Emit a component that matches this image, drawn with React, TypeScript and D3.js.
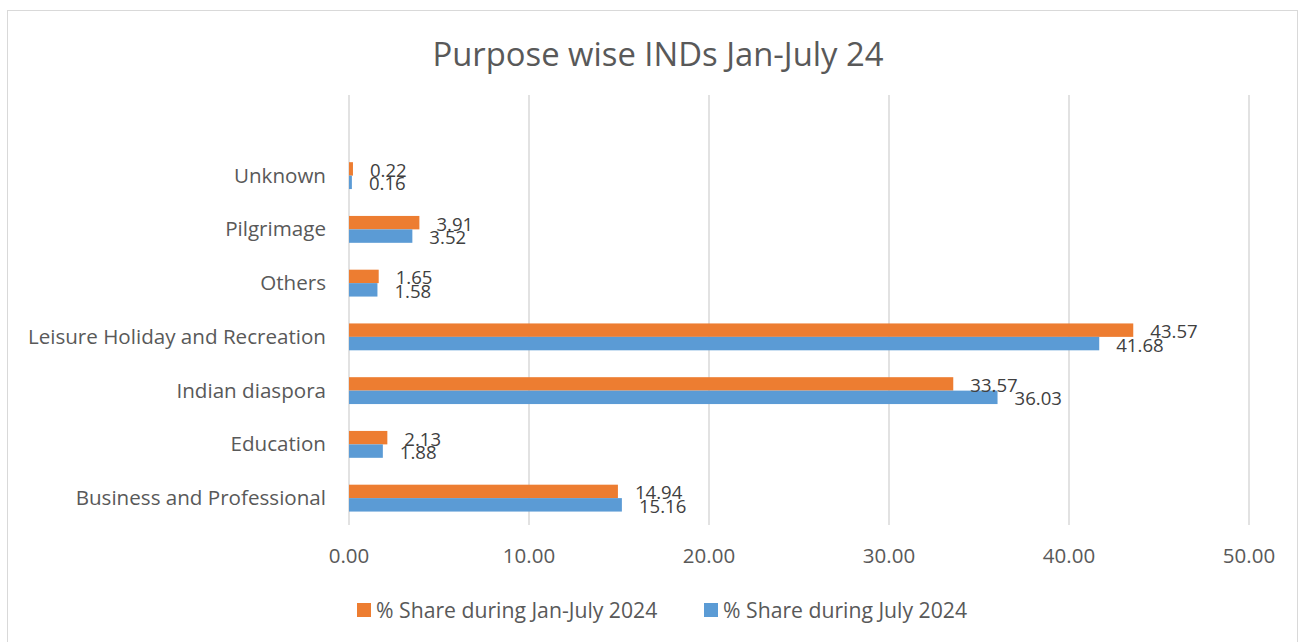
import { useEffect, useRef } from 'react'
import * as d3 from 'd3'

const categories = [
  'Unknown',
  'Pilgrimage',
  'Others',
  'Leisure Holiday and Recreation',
  'Indian diaspora',
  'Education',
  'Business and Professional',
]
const janJulyShare = [0.22, 3.91, 1.65, 43.57, 33.57, 2.13, 14.94]
const julyShare = [0.16, 3.52, 1.58, 41.68, 36.03, 1.88, 15.16]
const xTicks = [0, 10, 20, 30, 40, 50]
const seriesNames = ['% Share during Jan-July 2024', '% Share during July 2024']
const seriesColors = ['#ED7D31', '#5B9BD5']

export default function App() {
  const ref = useRef<SVGSVGElement>(null)

  useEffect(() => {
    const svg = d3.select(ref.current)
    svg.selectAll('*').remove()
    const width = 1298
    const height = 642
    const font = '"Open Sans", sans-serif'
    const textColor = '#595959'

    // chart frame
    svg.append('rect').attr('x', 7.5).attr('y', 10.5).attr('width', width - 8).attr('height', height - 10)
      .attr('fill', '#fff').attr('stroke', '#d9d9d9').attr('stroke-width', 1)

    svg.append('text').attr('x', 658).attr('y', 66).attr('text-anchor', 'middle')
      .attr('font-family', font).attr('font-size', 32.8).attr('fill', textColor)
      .text('Purpose wise INDs Jan-July 24')

    const plotTop = 95
    const plotBottom = 525
    const x = d3.scaleLinear().domain([0, 50]).range([349, 1249])
    const y = d3.scaleBand().domain(categories).range([plotTop + (plotBottom - plotTop) / 8, plotBottom])
      .paddingInner(0.5).paddingOuter(0.25)
    const sub = d3.scaleBand().domain(['0', '1']).range([0, y.bandwidth()])

    // gridlines
    svg.append('g').selectAll('line').data(xTicks).enter().append('line')
      .attr('x1', d => x(d)).attr('x2', d => x(d)).attr('y1', plotTop).attr('y2', plotBottom)
      .attr('stroke', '#d9d9d9').attr('stroke-width', 1.5)

    // tick labels
    svg.append('g').selectAll('text').data(xTicks).enter().append('text')
      .attr('x', d => x(d)).attr('y', 563).attr('text-anchor', 'middle')
      .attr('font-family', font).attr('font-size', 20.5).attr('fill', textColor)
      .text(d => d3.format('.2f')(d))

    // category labels
    svg.append('g').selectAll('text').data(categories).enter().append('text')
      .attr('x', 326).attr('y', d => (y(d) as number) + y.bandwidth() / 2 + 7)
      .attr('text-anchor', 'end')
      .attr('font-family', font).attr('font-size', 20.6).attr('fill', textColor)
      .text(d => d)

    const rows = categories.flatMap((c, i) => [
      { cat: c, s: 0, v: janJulyShare[i] },
      { cat: c, s: 1, v: julyShare[i] },
    ])

    svg.append('g').selectAll('rect').data(rows).enter().append('rect')
      .attr('x', x(0)).attr('y', d => (y(d.cat) as number) + (sub(String(d.s)) as number))
      .attr('width', d => x(d.v) - x(0)).attr('height', sub.bandwidth())
      .attr('fill', d => seriesColors[d.s])

    // data labels (they overlap in the original too)
    svg.append('g').selectAll('text').data(rows).enter().append('text')
      .attr('x', d => x(d.v) + 17)
      .attr('y', d => (y(d.cat) as number) + (sub(String(d.s)) as number) + sub.bandwidth() / 2 + 8)
      .attr('font-family', font).attr('font-size', 18.6).attr('fill', '#404040')
      .text(d => d3.format('.2f')(d.v))

    // legend
    const legendX = [357, 704]
    const lg = svg.append('g').selectAll('g').data(seriesNames).enter().append('g')
      .attr('transform', (d, i) => `translate(${legendX[i]},603)`)
    lg.append('rect').attr('width', 14).attr('height', 14).attr('fill', (d, i) => seriesColors[i])
    lg.append('text').attr('x', 19).attr('y', 15)
      .attr('font-family', font).attr('font-size', 21.2).attr('fill', textColor)
      .text(d => d)
  }, [])

  return (
    <svg ref={ref} width={1298} height={642} viewBox="0 0 1298 642"
      style={{ position: 'absolute', left: 0, top: 0, display: 'block' }} />
  )
}
